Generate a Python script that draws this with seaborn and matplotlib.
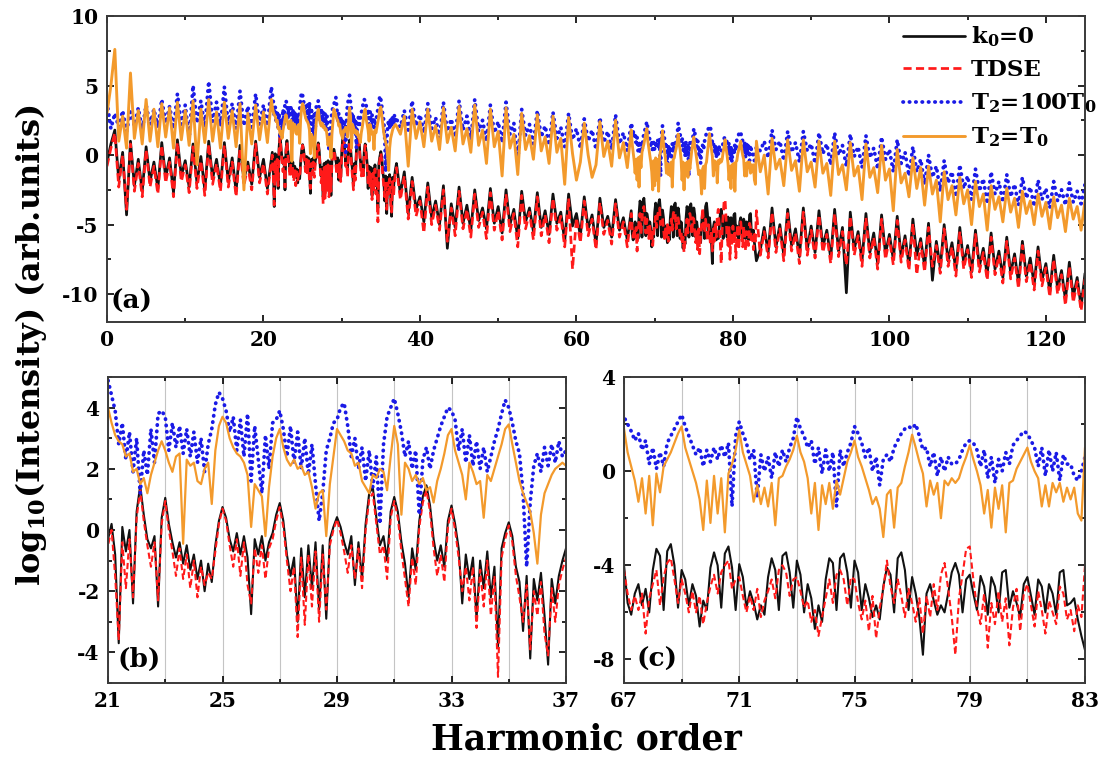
import numpy as np
import pandas as pd
import matplotlib
matplotlib.use("Agg")
import matplotlib.pyplot as plt
from matplotlib.ticker import MultipleLocator, FixedLocator
import seaborn as sns

# ---------------------------------------------------------------------------
# Harmonic-order sampling grids (coarse outside the two zoom windows,
# fine inside 21-37 and 67-83)
# ---------------------------------------------------------------------------
orders_low = np.arange(0.0, 21.0, 0.5)        # 0 ... 20.5
orders_b = np.arange(21.0, 37.001, 0.125)     # 21 ... 37
orders_mid = np.arange(37.5, 67.0, 0.5)       # 37.5 ... 66.5
orders_c = np.arange(67.0, 83.001, 0.125)     # 67 ... 83
orders_high = np.arange(83.5, 125.001, 0.5)   # 83.5 ... 125

# ---------------------------------------------------------------------------
# log10 intensity, k0 = 0 model
# ---------------------------------------------------------------------------
k0_low = [-0.5, 0.8, 1.8, -1.8, 0.2, -4.3, 1.0, -2.2, -0.3, -2.6, 0.6, -1.9,
          -0.5, -2.4, 0.9, -1.6, -0.2, -2.7, 1.1, -1.5, -0.4, -2.3, 0.8, -2.0,
          -0.1, -2.5, 1.0, -1.7, -0.3, -2.2, 0.9, -1.9, -0.2, -2.6, 0.7, -1.8,
          -0.5, -2.1, 1.0, -1.6, -0.3, -2.4]
k0_b = [
    -0.3, 0.2, -0.8, -3.7, 0.1, -0.7, 0.0, -2.4,
    0.6, 1.45, 0.5, -0.3, -0.6, -0.2, -2.5, 0.4,
    1.05, 0.2, -0.4, -0.9, -0.4, -1.1, -0.5, -1.3,
    -0.8, -1.6, -1.0, -2.0, -1.1, -1.7, -0.5, 0.3,
    0.75, 0.4, -0.3, -0.7, -0.1, -0.8, -0.2, -0.9,
    -2.75, -0.3, -0.8, -0.2, -1.0, -0.4, -0.1, 0.5,
    0.88, 0.3, -0.8, -1.5, -0.9, -3.0, -0.6, -2.2,
    -0.5, -1.9, -0.4, -2.6, -0.5, -2.9, -0.3, 0.1,
    0.42, 0.1, -0.4, -0.8, -0.2, -1.8, -0.4, -1.6,
    0.2, 1.2, 1.4, 0.4, -0.5, -0.2, -1.0, 0.6,
    1.08, 0.6, -0.4, -1.1, -2.2, -0.6, -1.3, 0.3,
    1.1, 1.46, 0.8, -0.3, -1.0, -0.5, -1.2, 0.3,
    0.8, 0.2, -0.6, -2.4, -0.8, -1.6, -0.9, -2.9,
    -1.0, -1.9, -0.7, -2.2, -1.2, -3.8, -0.6, -0.1,
    0.25, -0.2, -1.2, -1.7, -3.3, -1.5, -4.2, -1.6,
    -2.3, -1.4, -2.8, -4.4, -1.6, -2.4, -1.5, -1.0,
    -0.6]
k0_mid = [-2.8, -1.2, -4.2, -1.6, -3.9, -3.0, -4.8, -2.0, -4.5, -3.3, -5.0,
          -2.2, -6.7, -3.5, -5.2, -2.3, -4.9, -3.6, -5.4, -2.5, -4.7, -3.8,
          -5.3, -2.4, -4.9, -3.7, -5.6, -2.5, -5.0, -3.9, -6.0, -2.6, -4.8,
          -3.8, -5.5, -2.7, -5.2, -4.0, -5.7, -2.8, -4.9, -4.1, -6.2, -2.8,
          -5.1, -4.2, -5.8, -3.0, -5.3, -4.3, -6.4, -3.1, -5.2, -4.4, -5.9,
          -3.2, -5.4, -4.5, -6.1]
k0_c = [
    -4.0, -5.6, -6.1, -5.2, -4.8, -5.7, -5.0, -6.0,
    -4.2, -3.3, -3.6, -5.9, -3.4, -3.1, -4.0, -5.8,
    -4.2, -4.6, -5.7, -4.8, -5.3, -6.6, -5.5, -5.9,
    -4.1, -3.45, -4.0, -5.8, -3.5, -3.2, -4.1, -5.9,
    -3.95, -4.5, -5.8, -5.1, -5.6, -6.3, -5.7, -6.1,
    -4.5, -3.7, -4.2, -5.9, -3.6, -3.45, -4.3, -5.8,
    -3.8, -4.4, -6.0, -4.8, -5.4, -6.7, -5.7, -6.4,
    -4.6, -3.7, -3.9, -5.9, -3.7, -3.5, -4.3, -5.8,
    -3.8, -4.3, -5.9, -4.8, -5.4, -6.2, -5.7, -6.3,
    -4.9, -4.1, -4.4, -6.0, -3.7, -3.45, -4.2, -5.9,
    -4.5, -5.2, -6.2, -7.8, -5.2, -4.8, -5.5, -6.1,
    -5.7, -6.0, -5.2, -4.3, -3.9, -4.4, -6.0, -4.6,
    -4.4, -5.2, -5.9, -4.45, -4.9, -6.1, -4.5, -4.9,
    -6.0, -4.3, -4.2, -5.8, -5.1, -5.6, -6.2, -4.8,
    -4.5, -5.3, -6.1, -4.6, -4.9, -6.0, -4.8, -5.2,
    -6.1, -4.3, -4.2, -5.7, -5.6, -5.4, -6.3, -7.0,
    -7.6]
k0_high = [-6.8, -5.2, -7.0, -3.8, -6.6, -5.0, -7.2, -3.9, -6.5, -5.3, -7.3,
           -3.8, -6.8, -5.1, -7.0, -4.0, -6.6, -5.4, -7.4, -3.9, -6.9, -5.2,
           -9.9, -4.1, -6.8, -5.5, -7.6, -4.2, -7.0, -5.6, -7.8, -4.3, -7.1,
           -5.7, -7.5, -4.4, -7.3, -5.8, -7.9, -4.6, -7.2, -6.0, -8.0, -4.9,
           -9.0, -6.2, -8.1, -5.0, -7.6, -6.3, -8.3, -5.2, -7.8, -6.5, -8.4,
           -5.4, -8.0, -6.7, -8.6, -5.6, -8.2, -6.9, -8.8, -5.9, -8.5, -7.1,
           -9.2, -6.2, -8.7, -7.4, -9.3, -6.6, -9.0, -7.8, -9.8, -7.2, -9.6,
           -8.3, -10.4, -7.7, -10.2, -8.8, -10.9, -8.5]

# ---------------------------------------------------------------------------
# log10 intensity, TDSE
# ---------------------------------------------------------------------------
tdse_low = [-0.8, 0.5, 1.6, -2.3, 0.0, -3.9, 0.8, -2.6, -0.6, -3.0, 0.4, -2.3,
            -0.8, -2.8, 0.7, -2.0, -0.5, -3.0, 0.9, -1.9, -0.7, -2.7, 0.6, -2.4,
            -0.4, -2.9, 0.8, -2.1, -0.6, -2.6, 0.7, -2.3, -0.5, -3.0, 0.5, -2.2,
            -0.8, -2.5, 0.8, -2.0, -0.6, -2.8]
tdse_b = [
    -0.5, 0.0, -1.5, -3.6, -0.4, -1.9, -0.3, -2.2,
    0.4, 1.3, 0.3, -0.5, -1.2, -0.4, -2.3, 0.2,
    0.95, 0.0, -0.7, -1.5, -0.6, -1.6, -0.8, -1.9,
    -1.0, -2.2, -1.2, -1.8, -1.4, -1.6, -0.7, 0.2,
    0.7, 0.3, -0.5, -1.2, -0.3, -1.5, -0.4, -1.8,
    -2.4, -0.6, -1.4, -0.5, -1.6, -0.6, -0.3, 0.3,
    0.75, 0.1, -1.0, -2.0, -1.2, -3.5, -0.9, -3.1,
    -0.8, -2.5, -0.7, -3.0, -0.8, -2.6, -0.5, 0.0,
    0.35, -0.1, -0.7, -1.4, -0.5, -1.6, -0.6, -1.9,
    0.0, 1.0, 1.2, 0.2, -0.8, -0.5, -1.6, 0.4,
    0.95, 0.4, -0.7, -1.6, -2.5, -0.9, -1.8, 0.1,
    0.9, 1.3, 0.6, -0.6, -1.5, -0.8, -1.7, 0.1,
    0.7, 0.0, -0.9, -2.0, -1.2, -2.3, -1.2, -3.2,
    -1.3, -2.5, -1.0, -2.8, -1.5, -4.8, -0.9, -0.3,
    0.15, -0.4, -1.5, -2.2, -3.0, -1.8, -3.9, -2.0,
    -2.8, -1.7, -3.4, -4.1, -1.9, -3.0, -1.8, -1.3,
    -0.9]
tdse_mid = [-3.2, -1.5, -4.6, -1.9, -4.4, -3.3, -5.6, -2.3, -5.0, -3.6, -5.4,
            -2.5, -6.2, -3.8, -5.8, -2.6, -5.3, -3.9, -5.9, -2.8, -5.2, -4.1,
            -6.0, -2.7, -5.4, -4.0, -6.1, -2.8, -5.5, -4.2, -6.6, -2.9, -5.3,
            -4.1, -6.1, -3.0, -5.8, -4.3, -6.3, -3.1, -5.4, -4.4, -6.6, -3.1,
            -8.2, -4.5, -6.3, -3.3, -5.8, -4.6, -6.8, -3.4, -5.7, -4.7, -6.4,
            -3.5, -5.9, -4.8, -6.6]
tdse_c = [
    -4.2, -5.2, -5.9, -5.3, -5.9, -5.2, -6.9, -5.4,
    -4.8, -4.2, -5.7, -4.5, -3.9, -3.7, -4.6, -5.6,
    -4.6, -5.2, -6.0, -5.1, -6.0, -5.3, -6.5, -5.6,
    -4.9, -4.4, -5.2, -4.3, -4.0, -3.8, -5.0, -4.6,
    -4.5, -5.3, -6.0, -5.3, -5.9, -5.0, -6.2, -5.5,
    -5.1, -4.6, -5.4, -4.2, -4.0, -4.3, -5.3, -4.6,
    -4.5, -5.1, -5.8, -5.5, -6.4, -5.9, -7.0, -6.2,
    -5.4, -4.6, -5.6, -4.4, -4.2, -4.6, -5.7, -4.5,
    -4.6, -5.6, -6.3, -5.5, -6.8, -5.3, -7.1, -5.8,
    -5.0, -3.8, -4.9, -5.6, -4.6, -5.3, -6.2, -5.0,
    -5.6, -6.4, -5.4, -6.9, -5.3, -6.2, -4.8, -5.9,
    -4.4, -3.9, -5.0, -6.2, -7.8, -5.4, -4.4, -3.3,
    -3.2, -4.6, -5.8, -6.5, -5.2, -7.5, -5.6, -6.5,
    -5.1, -6.4, -5.4, -7.4, -5.8, -5.0, -6.8, -5.2,
    -4.8, -5.7, -6.6, -5.1, -5.9, -6.9, -5.5, -6.0,
    -6.5, -4.9, -5.2, -6.3, -5.9, -6.8, -5.7, -6.2,
    -4.0]
tdse_high = [-7.2, -5.5, -7.4, -4.1, -7.0, -5.3, -7.6, -4.2, -6.9, -5.6, -7.8,
             -4.1, -7.2, -5.4, -7.4, -4.3, -7.0, -5.7, -7.8, -4.2, -7.3, -5.5,
             -7.9, -4.4, -7.2, -5.8, -8.0, -4.5, -7.4, -5.9, -8.2, -4.6, -7.5,
             -6.0, -7.9, -4.7, -7.7, -6.1, -8.3, -4.9, -8.6, -6.3, -8.4, -5.2,
             -8.0, -6.5, -8.5, -5.3, -8.0, -6.6, -8.7, -5.5, -8.2, -6.8, -8.8,
             -5.7, -8.4, -7.0, -9.0, -5.9, -8.6, -7.2, -9.2, -6.2, -8.9, -7.4,
             -9.6, -6.5, -9.1, -7.7, -9.7, -6.9, -9.4, -8.1, -10.2, -7.5, -10.0,
             -8.6, -10.8, -8.0, -10.6, -9.1, -11.2, -8.9]

# ---------------------------------------------------------------------------
# log10 intensity, T2 = 100 T0
# ---------------------------------------------------------------------------
t100_low = [3.8, 1.9, 3.0, 2.0, 3.2, 1.7, 3.1, 2.1, 3.4, 1.8, 3.6, 2.2, 3.3,
            2.0, 4.0, 2.3, 3.5, 1.9, 4.4, 2.2, 3.6, 1.2, 5.0, 2.3, 3.9, 2.0,
            5.3, 2.4, 3.8, 2.1, 4.9, 2.2, 3.7, 1.9, 4.6, 2.1, 3.5, 2.0, 4.4,
            2.2, 3.6, 2.1]
t100_b = [
    4.9, 4.4, 3.9, 2.8, 3.5, 2.3, 3.2, 1.9,
    3.0, 1.2, 2.6, 1.8, 3.3, 2.2, 3.8, 3.9,
    3.7, 2.6, 3.5, 2.7, 3.4, 2.5, 3.3, 2.4,
    3.2, 2.2, 3.0, 1.9, 2.8, 3.3, 4.1, 4.5,
    4.3, 3.9, 3.2, 3.7, 2.6, 3.6, 2.4, 3.8,
    1.6, 3.4, 2.3, 1.2, 3.1, 2.0, 3.5, 3.6,
    3.9, 3.3, 2.4, 3.4, 2.2, 3.2, 2.0, 3.0,
    1.8, 2.8, 1.5, 0.3, 1.2, 2.6, 3.0, 3.5,
    3.6, 4.0, 4.15, 3.4, 2.4, 3.0, 2.0, 2.7,
    1.6, 2.6, 1.4, 2.4, 0.2, 2.8, 3.7, 4.0,
    4.3, 3.8, 3.2, 2.4, 2.9, 2.0, 2.6, 0.5,
    2.3, 2.7, 2.0, 2.6, 3.0, 3.4, 3.7, 4.0,
    3.9, 3.6, 2.6, 3.3, 2.2, 3.1, 2.1, 2.9,
    2.0, 2.7, 1.9, 2.4, 2.9, 3.3, 3.8, 4.25,
    4.0, 3.5, 2.9, 2.5, 1.2, -1.2, 0.9, 2.1,
    2.5, 1.9, 2.7, 2.1, 2.8, 2.2, 2.9, 2.4,
    2.6]
t100_mid = [2.0, 3.2, 1.8, 3.9, 2.1, 2.9, 1.6, 3.7, 1.9, 2.7, 1.2, 3.8, 1.7,
            2.6, 1.3, 3.9, 1.8, 2.8, 1.1, 4.0, 1.7, 2.5, 1.0, 3.6, 1.6, 2.4,
            0.9, 3.8, 1.5, 2.3, -0.4, 3.3, 1.4, 2.2, 0.8, 3.2, 1.3, 2.1, 0.7,
            3.1, 1.2, 2.0, 0.6, 3.0, 1.1, 1.9, 0.5, 2.6, 1.0, 1.8, 0.4, 2.7,
            0.9, 1.7, 0.4, 2.9, 0.8, 1.6, 0.3]
t100_c = [
    2.3, 2.0, 1.7, 1.3, 1.6, 0.9, 1.3, 0.3,
    1.0, 0.1, 0.8, 0.2, 1.2, 1.5, 1.8, 2.1,
    2.4, 1.9, 1.5, 1.1, 0.7, 1.0, 0.2, 0.9,
    0.4, 1.0, 0.5, 1.1, 0.6, 1.2, -1.5, 1.5,
    2.1, 1.6, 1.2, 0.5, 0.9, -1.1, 0.7, 0.0,
    0.6, -0.3, 0.8, 0.2, 0.9, 0.4, 1.0, 1.4,
    2.3, 1.8, 1.5, 1.0, 1.3, 0.3, 1.0, -0.1,
    0.9, 0.0, 0.8, -1.5, 0.9, 0.2, 0.8, 1.2,
    1.9, 1.6, 1.2, 0.6, 1.0, 0.0, 0.6, -0.6,
    0.5, 0.7, 0.4, 1.0, 1.3, 1.6, 1.8, 1.9,
    1.8, 2.0, 1.5, 0.9, 1.0, 0.2, 0.8, -0.2,
    0.6, 0.0, 0.6, 0.3, 0.3, 0.5, 0.9, 1.2,
    1.3, 1.2, 0.9, 0.2, 0.9, -0.3, 0.6, -0.5,
    0.5, 0.0, 0.8, 0.3, 1.1, 1.3, 1.5, 1.7,
    1.6, 1.3, 1.0, 0.2, 1.0, -0.2, 0.9, 0.0,
    0.8, -0.4, 0.7, 0.3, 0.3, -0.2, -0.4, 0.0,
    0.6]
t100_high = [0.3, 1.0, -0.2, 1.8, 0.4, 1.0, -0.4, 1.7, 0.2, 0.9, -0.5, 1.7,
             0.3, 0.8, -0.6, 1.6, 0.1, 0.8, -0.7, 1.6, 0.0, 0.7, -0.8, 1.5,
             -0.1, 0.6, -0.9, 1.4, -0.2, 0.5, -1.0, 1.3, -0.3, 0.4, -1.2, 1.1,
             -0.6, 0.2, -1.5, 0.6, -1.2, -0.3, -2.1, 0.0, -1.6, -0.8, -2.6,
             -0.4, -2.0, -1.2, -3.0, -0.7, -2.4, -1.5, -3.2, -1.0, -2.6, -1.7,
             -3.5, -1.2, -2.8, -1.9, -3.4, -1.4, -3.0, -2.1, -3.6, -1.6, -3.1,
             -2.3, -3.7, -1.8, -3.2, -2.4, -3.8, -1.9, -3.3, -2.5, -3.6, -2.0,
             -3.4, -2.6, -3.5, -2.1]

# ---------------------------------------------------------------------------
# log10 intensity, T2 = T0
# ---------------------------------------------------------------------------
t1_low = [3.0, 5.0, 7.6, 1.0, 2.8, 0.5, 5.9, 1.2, 3.2, 0.8, 4.0, 1.0, 3.3,
          0.6, 3.7, 1.3, 3.4, 0.5, 3.8, 1.1, 3.2, 0.7, 3.9, -0.7, 3.3, 0.9,
          4.0, 1.0, 3.1, 0.5, 3.8, 1.2, 3.2, 0.6, 3.7, -2.5, 3.0, 0.8, 3.6,
          1.1, 3.1, 0.9]
t1_b = [
    4.0, 3.5, 3.1, 2.9, 2.8, 2.4, 2.5, 1.9,
    2.0, 1.5, 1.7, 1.2, 1.8, 2.2, 2.6, 2.9,
    2.6, 2.2, 1.9, 2.4, 2.5, -0.45, 2.3, 2.1,
    2.2, 1.6, 1.5, 2.0, 2.2, 0.85, 2.6, 3.4,
    3.7, 3.5, 3.0, 2.7, 2.5, 2.4, 2.2, 1.8,
    0.1, 1.5, 1.3, 1.1, -0.2, 1.4, 2.4, 3.0,
    3.3, 2.7, 2.3, 2.1, 2.3, 2.0, 2.1, 1.8,
    1.9, 1.4, 0.7, 1.2, 1.3, -0.2, 1.5, 2.4,
    3.3, 3.1, 2.9, 2.6, 2.5, 2.1, 2.2, 1.6,
    1.4, 1.2, 1.8, 1.7, 2.0, 1.9, 1.3, 2.4,
    3.4, 2.8, 0.5, 2.2, 2.0, 1.6, 1.8, 1.5,
    1.7, 1.3, 1.4, 0.9, 1.6, 2.0, 2.5, 3.1,
    3.3, 2.6, 2.2, 1.8, 1.0, 2.2, 1.9, 1.5,
    1.6, 0.4, 1.8, 1.6, 2.0, 2.4, 2.8, 3.3,
    3.45, 2.8, 2.2, 1.6, 1.2, 0.9, 0.6, -0.1,
    -1.1, 0.5, 1.2, 1.5, 1.8, 2.0, 2.1, 2.2,
    2.1]
t1_mid = [1.5, 2.8, -0.8, 3.3, 1.2, 2.4, 0.6, 3.3, 1.0, 2.1, 0.4, 3.4, 0.9,
          2.0, 0.3, 3.5, 0.8, 1.9, 0.2, 3.6, 0.7, 1.8, -0.6, 3.3, 0.6, 1.7,
          -1.5, 3.4, 0.5, 1.5, -1.4, 3.0, 0.4, 1.4, -0.3, 2.9, 0.3, 1.3, -0.6,
          2.8, 0.2, 1.2, -2.1, 2.7, 0.1, -1.8, -0.5, 2.3, 0.0, -1.6, -0.7,
          2.4, -0.1, 1.0, -0.8, 2.5, -0.2, 0.9, -0.9]
t1_c = [
    1.8, 0.8, 0.2, -0.4, -1.3, -0.3, -1.8, -0.2,
    -2.3, -0.1, -0.9, 0.2, 0.5, 0.8, 1.2, 1.6,
    1.9, 1.0, 0.5, 0.0, -0.5, -1.2, -2.5, -0.4,
    -2.2, -0.2, -1.8, -0.3, -2.6, -0.1, 0.3, 0.9,
    1.75, 0.8, 0.3, -0.2, -1.3, -0.6, -1.4, -0.7,
    -1.5, -0.5, -2.3, -0.3, -0.2, 0.2, 0.5, 0.9,
    1.5, 0.8, 0.4, -0.3, -1.8, -0.5, -2.5, -0.6,
    -1.4, -0.5, -1.6, -0.4, -1.0, -0.3, 0.4, 0.8,
    1.3, 0.6, 0.2, -0.3, -0.8, -1.4, -1.1, -1.6,
    -2.8, -1.0, -0.8, -2.4, -0.7, -0.5, 0.2, 0.8,
    1.55, 1.0, 0.4, -0.1, -1.5, -0.4, -1.0, -0.5,
    -2.0, -0.4, -0.6, -0.3, -0.5, -0.3, 0.2, 0.6,
    1.1, 0.5, 0.0, -0.6, -1.8, -0.8, -2.4, -0.7,
    -1.6, -0.6, -2.6, -0.5, -0.4, 0.1, 0.4, 0.7,
    1.0, 0.4, 0.0, -0.3, -1.5, -0.6, -1.5, -0.5,
    -0.9, -0.5, -1.3, -0.7, -1.2, -0.7, -1.8, -2.1,
    1.0]
t1_high = [-1.2, 0.0, -2.8, 1.2, -1.0, -0.3, -2.2, 1.1, -1.1, -0.4, -2.6,
           1.1, -1.2, -0.5, -2.3, 1.0, -1.3, -0.6, -2.9, 1.0, -1.4, -0.7,
           -2.5, 0.9, -1.5, -0.8, -3.2, 0.8, -1.6, -0.9, -2.7, 0.7, -1.8,
           -1.0, -4.0, 0.4, -2.0, -1.3, -3.0, -0.2, -2.4, -0.9, -3.6, -0.8,
           -2.8, -1.8, -4.8, -1.2, -3.2, -2.2, -4.3, -1.6, -3.5, -2.5, -5.0,
           -1.9, -3.7, -2.8, -5.4, -2.2, -3.9, -3.0, -4.8, -2.4, -4.1, -3.1,
           -5.2, -2.6, -4.2, -3.3, -5.0, -2.8, -4.4, -3.4, -5.3, -3.0, -4.5,
           -3.6, -5.5, -3.1, -4.6, -3.7, -5.4, -3.3]

# Legend labels
labels = ["k$_0$=0", "TDSE", "T$_2$=100T$_0$", "T$_2$=T$_0$"]

# ---------------------------------------------------------------------------
orders = np.concatenate([orders_low, orders_b, orders_mid, orders_c, orders_high])
segments = {
    labels[0]: [k0_low, k0_b, k0_mid, k0_c, k0_high],
    labels[1]: [tdse_low, tdse_b, tdse_mid, tdse_c, tdse_high],
    labels[2]: [t100_low, t100_b, t100_mid, t100_c, t100_high],
    labels[3]: [t1_low, t1_b, t1_mid, t1_c, t1_high],
}
frames = []
for name, parts in segments.items():
    vals = np.concatenate([np.asarray(p, float) for p in parts])
    if len(vals) != len(orders):
        raise ValueError(f"{name}: {[len(p) for p in parts]}")
    frames.append(pd.DataFrame({"order": orders, "logI": vals, "model": name}))
spectra = pd.concat(frames, ignore_index=True)


def style_for(name, wide):
    """Line style per model; the overview panel uses slightly heavier strokes."""
    k = 1.3 if wide else 1.0
    if name == labels[0]:
        return dict(color="#111111", lw=1.5 * k, linestyle="-")
    if name == labels[1]:
        return dict(color="#ff1a1a", lw=1.5 * k, linestyle=(0, (3.0, 1.6)))
    if name == labels[2]:
        return dict(color="#1a1ae6", lw=2.7, linestyle=(0, (0.1, 1.6)),
                    dash_capstyle="round")
    return dict(color="#f39a2c", lw=1.6 * k, linestyle="-")


# ---------------------------------------------------------------------------
sns.set_theme(style="ticks")
plt.rcParams["font.family"] = ["DejaVu Serif"]
plt.rcParams["font.weight"] = "bold"
plt.rcParams["text.color"] = "#000000"
plt.rcParams["axes.labelweight"] = "bold"
plt.rcParams["axes.unicode_minus"] = False
plt.rcParams["mathtext.fontset"] = "custom"
plt.rcParams["mathtext.rm"] = "DejaVu Serif:bold"
plt.rcParams["mathtext.it"] = "DejaVu Serif:bold"
plt.rcParams["mathtext.bf"] = "DejaVu Serif:bold"
plt.rcParams["mathtext.default"] = "rm"

W, H = 1104, 758
fig = plt.figure(figsize=(W / 100, H / 100), dpi=100)


def frac(x0, y0, x1, y1):
    return [x0 / W, 1 - y1 / H, (x1 - x0) / W, (y1 - y0) / H]


ax_a = fig.add_axes(frac(107, 16, 1085, 322))
ax_b = fig.add_axes(frac(108, 377, 566, 683))
ax_c = fig.add_axes(frac(624, 377, 1085, 683))

for ax in (ax_a, ax_b, ax_c):
    for name in labels:
        sub = spectra[spectra["model"] == name]
        sns.lineplot(data=sub, x="order", y="logI", ax=ax, estimator=None,
                     sort=False, label=name if ax is ax_a else None,
                     legend=False, **style_for(name, ax is ax_a))
    ax.set_xlabel("")
    ax.set_ylabel("")
    for sp in ax.spines.values():
        sp.set_linewidth(1.4)
        sp.set_color("#3a3a3a")
    ax.tick_params(which="both", direction="in", top=True, right=True,
                   width=1.2, labelsize=14.5, pad=6, colors="#000000")
    ax.tick_params(which="major", length=5)
    ax.tick_params(which="minor", length=3)

# panel (a)
ax_a.set_xlim(0, 125)
ax_a.set_ylim(-12, 10)
ax_a.xaxis.set_major_locator(MultipleLocator(20))
ax_a.xaxis.set_minor_locator(MultipleLocator(10))
ax_a.yaxis.set_major_locator(MultipleLocator(5))
ax_a.yaxis.set_minor_locator(MultipleLocator(2.5))

# panel (b)
ax_b.set_xlim(21, 37)
ax_b.set_ylim(-5, 5)
ax_b.xaxis.set_major_locator(FixedLocator([21, 25, 29, 33, 37]))
ax_b.xaxis.set_minor_locator(FixedLocator([23, 27, 31, 35]))
ax_b.yaxis.set_major_locator(MultipleLocator(2))
ax_b.yaxis.set_minor_locator(MultipleLocator(1))

# panel (c)
ax_c.set_xlim(67, 83)
ax_c.set_ylim(-9, 4)
ax_c.xaxis.set_major_locator(FixedLocator([67, 71, 75, 79, 83]))
ax_c.xaxis.set_minor_locator(FixedLocator([69, 73, 77, 81]))
ax_c.yaxis.set_major_locator(FixedLocator([-8, -4, 0, 4]))
ax_c.yaxis.set_minor_locator(FixedLocator([-6, -2, 2]))

for ax in (ax_b, ax_c):
    ax.grid(True, which="both", axis="x", color="#c4c4c4", lw=0.8)
    ax.set_axisbelow(True)

# panel tags
ax_a.text(0.004, 0.025, "(a)", transform=ax_a.transAxes, fontsize=19,
          fontweight="bold", ha="left", va="bottom")
ax_b.text(0.02, 0.035, "(b)", transform=ax_b.transAxes, fontsize=19,
          fontweight="bold", ha="left", va="bottom")
ax_c.text(0.028, 0.035, "(c)", transform=ax_c.transAxes, fontsize=19,
          fontweight="bold", ha="left", va="bottom")

# legend
ax_a.legend(loc="upper left", bbox_to_anchor=(0.814, 0.972), frameon=False,
            fontsize=16.5, handlelength=2.7, handletextpad=0.25,
            labelspacing=0.45, borderaxespad=0, borderpad=0)

# shared axis titles
fig.text(0.028, 0.545, "log$_{10}$(Intensity) (arb.units)", rotation=90,
         ha="center", va="center", fontsize=23, fontweight="bold")
fig.text(0.531, 0.024, "Harmonic order", ha="center", va="center",
         fontsize=25, fontweight="bold")

fig.savefig("out.png", dpi=100)
